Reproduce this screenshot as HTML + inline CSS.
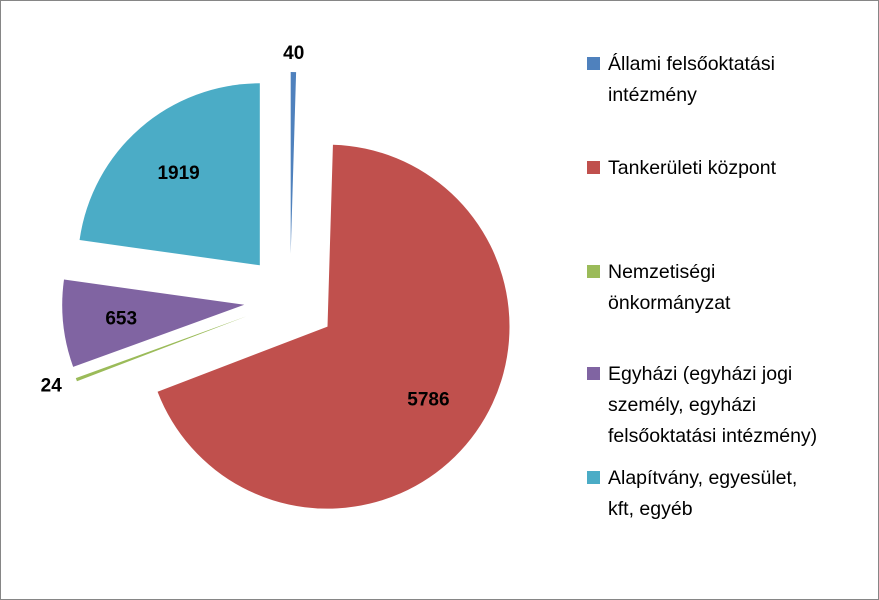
<!DOCTYPE html>
<html><head><meta charset="utf-8"><style>
html,body{margin:0;padding:0;background:#fff}
svg{display:block}
text{font-family:"Liberation Sans",sans-serif}
</style></head><body>
<svg id="chart" width="879" height="600" viewBox="0 0 879 600">
<rect x="0.5" y="0.5" width="878" height="599" fill="#fff" stroke="#868686" stroke-width="1"/>
<g id="slices"></g>
<g id="labels"></g>
<g id="legend"></g>
</svg>
<script>
const categories = ["Állami felsőoktatási intézmény","Tankerületi központ","Nemzetiségi önkormányzat","Egyházi (egyházi jogi személy, egyházi felsőoktatási intézmény)","Alapítvány, egyesület, kft, egyéb"];
const values = [40, 5786, 24, 653, 1919];
const legendLines = [["Állami felsőoktatási","intézmény"],["Tankerületi központ"],["Nemzetiségi","önkormányzat"],["Egyházi (egyházi jogi","személy, egyházi","felsőoktatási intézmény)"],["Alapítvány, egyesület,","kft, egyéb"]];
const colors = ["#4F81BD","#C0504D","#9BBB59","#8064A2","#4BACC6"];
const NS = "http://www.w3.org/2000/svg";
const cx = 290, cy = 300, r = 182, explode = 46;
const total = values.reduce((a,b)=>a+b,0);
const slicesG = document.getElementById('slices');
const labelsG = document.getElementById('labels');
const legendG = document.getElementById('legend');
function pt(x,y,ang,rad){return [x+rad*Math.sin(ang), y-rad*Math.cos(ang)];}
let acc = 0;
values.forEach((v,i)=>{
  const a0 = acc/total*2*Math.PI; acc += v; const a1 = acc/total*2*Math.PI;
  const mid = (a0+a1)/2;
  const [ox,oy] = pt(cx,cy,mid,explode);
  const [x0,y0] = pt(ox,oy,a0,r), [x1,y1] = pt(ox,oy,a1,r);
  const large = (a1-a0) > Math.PI ? 1 : 0;
  const p = document.createElementNS(NS,'path');
  p.setAttribute('d',`M${ox},${oy} L${x0},${y0} A${r},${r} 0 ${large} 1 ${x1},${y1} Z`);
  p.setAttribute('fill',colors[i]);
  
  
  slicesG.appendChild(p);
  // label
  let lr = (a1-a0) < 0.1 ? r+22 : r*0.68;
  let [lx,ly] = pt(ox,oy,mid,lr);
  if (i===2) { [lx,ly] = pt(ox,oy,mid,r+14); lx -= 12; }
  if (i===0) { ly += 2; }
  const t = document.createElementNS(NS,'text');
  t.setAttribute('x',lx); t.setAttribute('y',ly+7);
  t.setAttribute('text-anchor','middle');
  t.setAttribute('font-size','19'); t.setAttribute('font-weight','bold');
  t.setAttribute('fill','#000');
  t.textContent = values[i];
  
  
  labelsG.appendChild(t);
});
const legendY = [63, 167, 271, 373, 477];
legendLines.forEach((lines,i)=>{
  const g = document.createElementNS(NS,'g');
  
  
  const m = document.createElementNS(NS,'rect');
  m.setAttribute('x',587); m.setAttribute('y',legendY[i]-6); m.setAttribute('width',13); m.setAttribute('height',13);
  m.setAttribute('fill',colors[i]);
  
  
  g.appendChild(m);
  lines.forEach((ln,j)=>{
    const t = document.createElementNS(NS,'text');
    t.setAttribute('x',608); t.setAttribute('y',legendY[i]+7+j*31);
    t.setAttribute('font-size','19.5'); t.setAttribute('fill','#000');
    t.textContent = ln;
    
    
    g.appendChild(t);
  });
  legendG.appendChild(g);
});
</script>
</body></html>
